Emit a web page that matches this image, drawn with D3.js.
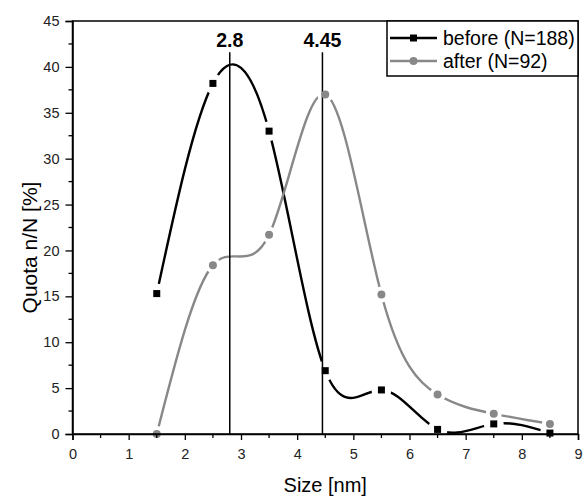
<!DOCTYPE html>
<html>
<head>
<meta charset="utf-8">
<script src="https://cdn.jsdelivr.net/npm/d3@7"></script>
<style>
  body { margin: 0; background: #fff; }
  svg { font-family: "Liberation Sans", Arial, sans-serif; }
</style>
</head>
<body>
<div id="chart"></div>
<script>
const sizes = [1.5, 2.5, 3.5, 4.5, 5.5, 6.5, 7.5, 8.5];
const before = [15.3, 38.2, 33.0, 6.9, 4.8, 0.5, 1.1, 0.1];
const after = [0.0, 18.4, 21.7, 37.0, 15.2, 4.3, 2.2, 1.1];
const peaks = [{x: 2.8, label: "2.8"}, {x: 4.45, label: "4.45"}];
const xTicks = d3.range(0, 10, 1);
const yTicks = d3.range(0, 50, 5);

const width = 584, height = 496;
const margin = {left: 72.5, right: 6, top: 21, bottom: 62};

const svg = d3.select("#chart").append("svg")
  .attr("width", width)
  .attr("height", height);

const x = d3.scaleLinear().domain([0, 9]).range([margin.left, width - margin.right]);
const y = d3.scaleLinear().domain([0, 45]).range([height - margin.bottom, margin.top]);

const series = [
  {name: "before (N=188)", values: before, color: "#000", marker: "square", gap: 10},
  {name: "after (N=92)", values: after, color: "#888", marker: "circle", gap: 8}
];

const defs = svg.append("defs");
const line = d3.line()
  .x(d => x(d[0]))
  .y(d => y(d[1]))
  .curve(d3.curveNatural);

// curves with gaps around their own markers
series.forEach((s, i) => {
  const pts = sizes.map((v, j) => [v, s.values[j]]);
  const mask = defs.append("mask").attr("id", "gap" + i)
    .attr("maskUnits", "userSpaceOnUse")
    .attr("x", 0).attr("y", 0).attr("width", width).attr("height", height);
  mask.append("rect").attr("width", width).attr("height", height).attr("fill", "#fff");
  mask.selectAll("circle").data(pts).enter().append("circle")
    .attr("cx", d => x(d[0])).attr("cy", d => y(d[1])).attr("r", s.gap).attr("fill", "#000");

  svg.append("path")
    .datum(pts)
    .attr("d", line)
    .attr("fill", "none")
    .attr("stroke", s.color)
    .attr("stroke-width", 2.4)
    .attr("mask", "url(#gap" + i + ")");
  s.pts = pts;
});

// vertical peak lines
peaks.forEach(p => {
  svg.append("line")
    .attr("x1", x(p.x)).attr("x2", x(p.x))
    .attr("y1", y(0)).attr("y2", y(41.6))
    .attr("stroke", "#000").attr("stroke-width", 1.5);
  svg.append("text")
    .attr("x", x(p.x)).attr("y", 47)
    .attr("text-anchor", "middle")
    .attr("font-size", 19.5).attr("font-weight", "bold")
    .text(p.label);
});

// markers
series.forEach(s => {
  if (s.marker === "square") {
    svg.selectAll(null).data(s.pts).enter().append("rect")
      .attr("x", d => x(d[0]) - 3.5).attr("y", d => y(d[1]) - 3.5)
      .attr("width", 7).attr("height", 7).attr("fill", s.color);
  } else {
    svg.selectAll(null).data(s.pts).enter().append("circle")
      .attr("cx", d => x(d[0])).attr("cy", d => y(d[1]))
      .attr("r", 4).attr("fill", s.color);
  }
});

// frame
svg.append("rect")
  .attr("x", x(0)).attr("y", y(45))
  .attr("width", x(9) - x(0)).attr("height", y(0) - y(45))
  .attr("fill", "none").attr("stroke", "#000").attr("stroke-width", 1.5);

// axes
const xAxis = svg.append("g")
  .attr("transform", `translate(0,${y(0)})`)
  .call(d3.axisBottom(x).tickValues(xTicks).tickSize(6).tickPadding(9).tickFormat(d3.format("d")));
xAxis.append("g").selectAll("line").data(d3.range(0.5, 9, 1)).enter().append("line")
  .attr("x1", d => x(d)).attr("x2", d => x(d)).attr("y1", 0).attr("y2", 4)
  .attr("stroke", "#000").attr("stroke-width", 1.3);

const yAxis = svg.append("g")
  .attr("transform", `translate(${x(0)},0)`)
  .call(d3.axisLeft(y).tickValues(yTicks).tickSize(7).tickPadding(6).tickFormat(d3.format("d")));
yAxis.append("g").selectAll("line").data(d3.range(2.5, 45, 5)).enter().append("line")
  .attr("y1", d => y(d)).attr("y2", d => y(d)).attr("x1", 0).attr("x2", -4)
  .attr("stroke", "#000").attr("stroke-width", 1.3);

[xAxis, yAxis].forEach(a => {
  a.select(".domain").attr("stroke-width", 1.5);
  a.selectAll(".tick line").attr("stroke-width", 1.3);
  a.selectAll("text").attr("font-size", 14.5).attr("fill", "#222")
    .attr("font-family", "'Liberation Sans', Arial, sans-serif");
});

svg.append("text")
  .attr("x", (x(0) + x(9)) / 2).attr("y", 492)
  .attr("text-anchor", "middle").attr("font-size", 20)
  .text("Size [nm]");
svg.append("text")
  .attr("transform", `translate(37,${(y(0) + y(45)) / 2 + 20}) rotate(-90)`)
  .attr("text-anchor", "middle").attr("font-size", 21)
  .text("Quota n/N [%]");

// legend
const lg = svg.append("g");
lg.append("rect")
  .attr("x", 387).attr("y", y(45))
  .attr("width", x(9) - 387).attr("height", 55)
  .attr("fill", "#fff").attr("stroke", "#000").attr("stroke-width", 1.5);
series.forEach((s, i) => {
  const cy = 38 + i * 23;
  lg.append("line").attr("x1", 390).attr("x2", 437).attr("y1", cy).attr("y2", cy)
    .attr("stroke", s.color).attr("stroke-width", 2.4);
  if (s.marker === "square") {
    lg.append("rect").attr("x", 413.5 - 3.5).attr("y", cy - 3.5).attr("width", 7).attr("height", 7).attr("fill", s.color);
  } else {
    lg.append("circle").attr("cx", 413.5).attr("cy", cy).attr("r", 4).attr("fill", s.color);
  }
  lg.append("text").attr("x", 443).attr("y", cy + 7)
    .attr("font-size", 19.5).text(s.name);
});
</script>
</body>
</html>
